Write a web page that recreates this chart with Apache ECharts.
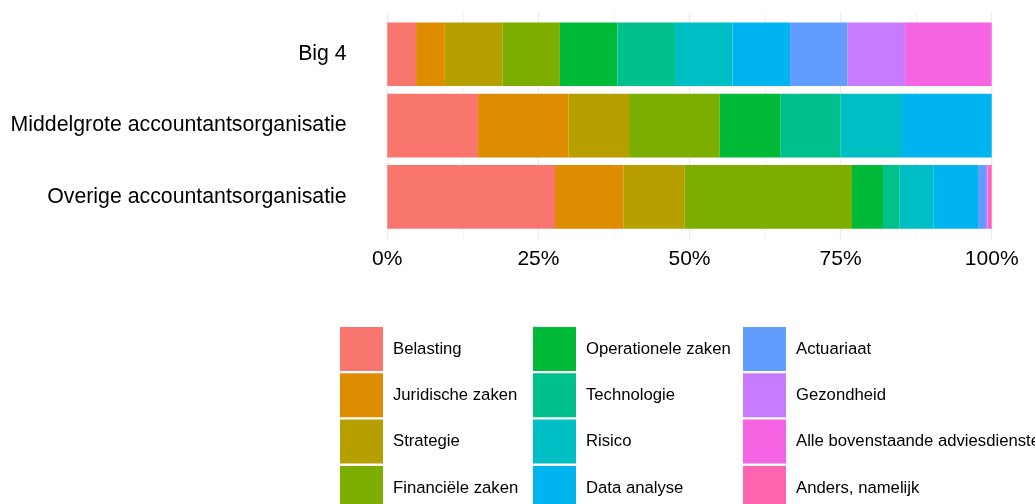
<!DOCTYPE html>
<html>
<head>
<meta charset="utf-8">
<script src="https://cdn.jsdelivr.net/npm/echarts@6/dist/echarts.min.js"></script>
<style>
html,body{margin:0;padding:0;background:#fff;}
#c{width:1035px;height:504px;}
</style>
</head>
<body>
<div id="c"></div>
<script>
var categories = ['Big 4', 'Middelgrote accountantsorganisatie', 'Overige accountantsorganisatie'];
var seriesNames = ['Belasting', 'Juridische zaken', 'Strategie', 'Financiële zaken',
  'Operationele zaken', 'Technologie', 'Risico', 'Data analyse',
  'Actuariaat', 'Gezondheid', 'Alle bovenstaande adviesdiensten', 'Anders, namelijk'];
var colors = ['#F8766D', '#DE8C00', '#B79F00', '#7CAE00', '#00BA38', '#00C08B',
  '#00BFC4', '#00B4F0', '#619CFF', '#C77CFF', '#F564E3', '#FF64B0'];
// percentage per category (order: Big 4, Middelgrote, Overige)
var belasting     = [4.76, 15, 27.75];
var juridisch     = [4.76, 15, 11.30];
var strategie     = [9.52, 10, 10.16];
var financieel    = [9.52, 15, 27.68];
var operationeel  = [9.52, 10, 5.13];
var technologie   = [9.52, 10, 2.76];
var risico        = [9.52, 10, 5.63];
var dataAnalyse   = [9.52, 15, 7.33];
var actuariaat    = [9.52, 0, 1.32];
var gezondheid    = [9.52, 0, 0.25];
var alleBoven     = [14.32, 0, 0.25];
var anders        = [0, 0, 0.44];
var xTicks = [0, 25, 50, 75, 100];

var values = [belasting, juridisch, strategie, financieel, operationeel, technologie,
  risico, dataAnalyse, actuariaat, gezondheid, alleBoven, anders];

var FONT = "'Liberation Sans', Arial, sans-serif";
var chart = echarts.init(document.getElementById('c'));

var series = seriesNames.map(function (n, i) {
  return {
    name: n, type: 'bar', stack: 'total', xAxisIndex: 0, yAxisIndex: 0,
    data: values[i], barWidth: '89.3%',
    itemStyle: { color: colors[i] },
    emphasis: { disabled: true }
  };
});

function legendCol(names, left) {
  return {
    orient: 'vertical', left: left, top: 327, height: 300, padding: 0,
    itemWidth: 43, itemHeight: 44, itemGap: 2.3,
    icon: 'rect', data: names, selectedMode: false,
    textStyle: { fontFamily: FONT, fontSize: 16.7, color: '#000', padding: [0, 0, 0, 5] }
  };
}

chart.setOption({
  animation: false,
  backgroundColor: '#fff',
  color: colors,
  grid: [
    { left: 387.3, width: 604.4, top: 18.6, height: 214 },
    { left: 387.3, width: 604.4, top: 12, height: 227 }
  ],
  xAxis: [
    { type: 'value', gridIndex: 0, min: 0, max: 100, show: false },
    { type: 'value', gridIndex: 1, min: 0, max: 100, interval: 25,
      axisLine: { show: false }, axisTick: { show: false },
      axisLabel: { formatter: function (v) { return xTicks.indexOf(v) >= 0 ? v + '%' : ''; },
        fontFamily: FONT, fontSize: 21, color: '#000', margin: 9.5 },
      splitLine: { show: true, lineStyle: { color: '#EBEBEB', width: 1.3 } },
      minorTick: { show: false, splitNumber: 2 },
      minorSplitLine: { show: true, lineStyle: { color: '#EFEFEF', width: 0.8 } }
    }
  ],
  yAxis: [
    { type: 'category', gridIndex: 0, data: categories, inverse: true,
      axisLine: { show: false }, axisTick: { show: false }, splitLine: { show: false },
      axisLabel: { fontFamily: FONT, fontSize: 21.3, color: '#000', margin: 40.6 } },
    { type: 'value', gridIndex: 1, min: 0, max: 1, show: false }
  ],
  legend: [
    legendCol(seriesNames.slice(0, 4), 340),
    legendCol(seriesNames.slice(4, 8), 533),
    legendCol(seriesNames.slice(8, 12), 743)
  ],
  series: series
});
</script>
</body>
</html>
